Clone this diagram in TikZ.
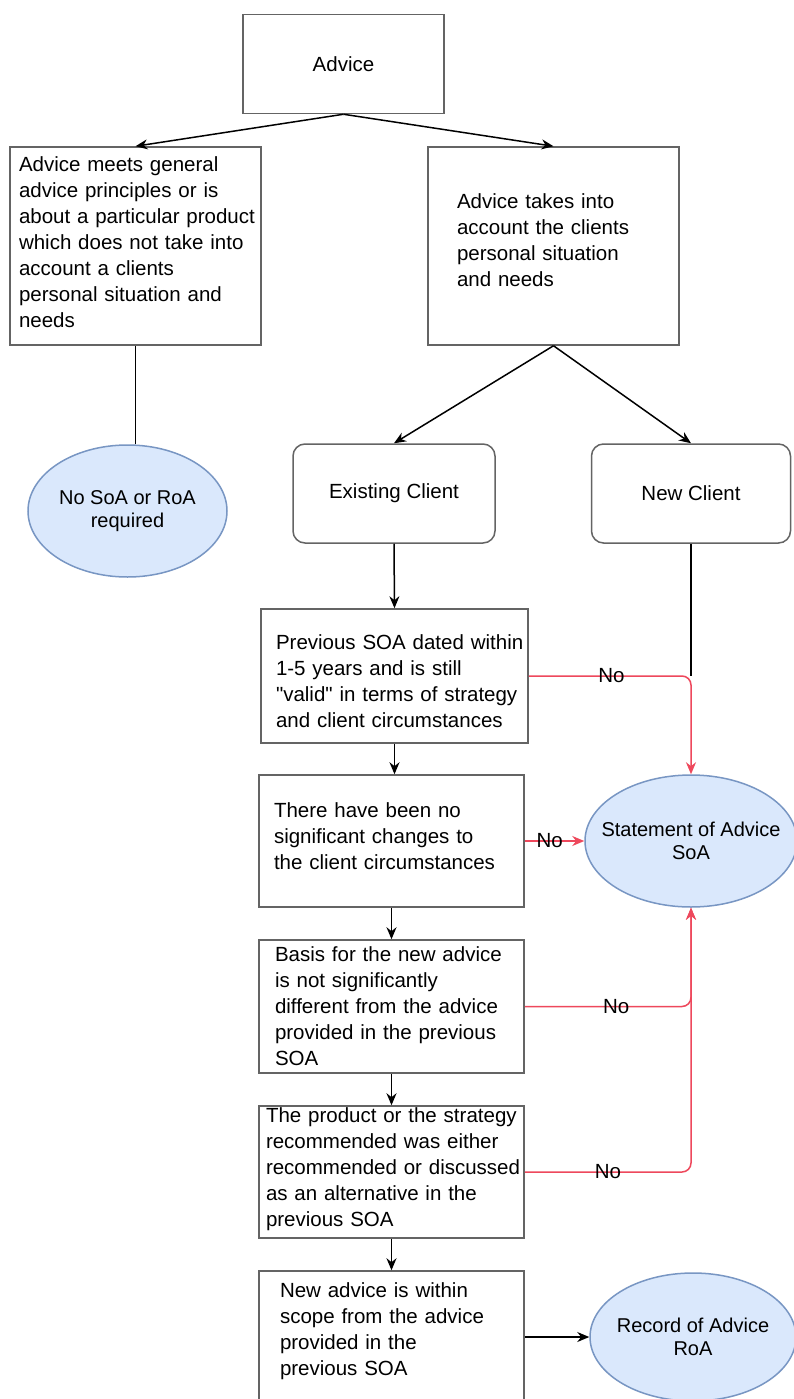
\documentclass[tikz,border=0pt]{standalone}
\usepackage{fontspec}
\setmainfont{Liberation Sans}[Ligatures=TeXOff]
\usepackage{tikz}
\usetikzlibrary{arrows.meta}
\usetikzlibrary{shapes.geometric}
\definecolor{boxgray}{RGB}{100,100,100}
\definecolor{bluefill}{RGB}{218,232,252}
\definecolor{blueline}{RGB}{120,150,195}
\definecolor{nored}{RGB}{238,72,92}
\def\lw{1.5pt}
\hyphenpenalty=10000
\exhyphenpenalty=10000
\newcommand{\padbelow}[1]{\par\kern#1\relax}

\begin{document}
\begin{tikzpicture}[	x=1pt, y=-1pt, >={Stealth[length=12pt,width=10pt]},
				font=\fontsize{20.5}{26}\selectfont,
				box/.style={draw=boxgray,line width=\lw,fill=white,rectangle,align=left,inner ysep=0pt},
				roundbox/.style={box,rounded corners=12pt,align=center},
				result/.style={draw=blueline,line width=\lw,fill=bluefill,ellipse,align=center,
					inner xsep=-18pt,inner ysep=0pt,font=\fontsize{20}{23}\selectfont},
				link/.style={line width=\lw,black},
				nolink/.style={line width=\lw,nored,rounded corners=9pt},
				nolabel/.style={text=black,inner sep=0pt}]

	\useasboundingbox (0,0) rectangle (794,1399);
	\clip (0,0) rectangle (794,1399);
	\fill[white] (0,0) rectangle (794,1399);

	% Top level
	\node[box,align=center,minimum width=201,minimum height=99] (advice) at (343.5,64) {Advice};
	\node[box,inner xsep=9,text width=233,minimum height=198] (general) at (135.5,246)
		{Advice meets general\\advice principles or is\\about~a~particular~product\\which does not take into\\account a clients\\personal situation and\\needs\padbelow{8pt}};
	\node[box,inner xsep=29,text width=193,minimum height=198] (personal) at (553.5,246)
		{Advice takes into\\account the clients\\personal situation\\and needs\padbelow{12pt}};
	\draw[link,->] (advice.south) -- (general.north);
	\draw[link,->] (advice.south) -- (personal.north);

	% General advice
	\node[result,minimum width=199,minimum height=132] (nosoa) at (127.5,511) {No SoA or RoA\\required};
	\draw[link] (general.south) -- (general.south |- nosoa.north);

	% Client type
	\node[roundbox,minimum width=202,minimum height=99] (existing) at (394,493.5) {Existing Client};
	\node[roundbox,minimum width=199,minimum height=99] (newclient) at (691,493.5) {New Client};
	\draw[link,->] (personal.south) -- (existing.north);
	\draw[link,->] (personal.south) -- (newclient.north);

	% Existing client checks
	\node[box,inner xsep=15,text width=237,minimum height=134] (previous) at (394.5,676)
		{Previous~SOA~dated~within\\1-5 years and is still\\"valid"~in~terms~of~strategy\\and client circumstances\padbelow{-10pt}};
	\node[box,inner xsep=15,text width=235,minimum height=132] (changes) at (391.5,841)
		{There have been no\\significant changes to\\the client circumstances\padbelow{9pt}};
	\node[box,inner xsep=16,text width=233,minimum height=133] (basis) at (391.5,1006.5)
		{Basis for the new advice\\is not significantly\\different from the advice\\provided in the previous\\SOA};
	\node[box,inner xsep=7,text width=251,minimum height=132] (product) at (391.5,1172)
		{The product or the strategy\\recommended was either\\recommended~or~discussed\\as an alternative in the\\previous SOA\padbelow{5pt}};
	\node[box,inner xsep=21,text width=223,minimum height=132] (scope) at (391.5,1337)
		{New advice is within\\scope from the advice\\provided in the\\previous SOA\padbelow{11pt}};
	\draw[link,->] (existing.south) -- (previous.north);
	\draw[link,->] (previous.south) -- (previous.south |- changes.north);
	\draw[link,->] (changes.south) -- (basis.north);
	\draw[link,->] (basis.south) -- (product.north);
	\draw[link,->] (product.south) -- (scope.north);

	% Outcomes
	\node[result,minimum width=212,minimum height=132] (soa) at (691,841) {Statement of Advice\\SoA};
	\node[result,minimum width=206,minimum height=128] (roa) at (693,1337) {Record of Advice\\RoA};
	\coordinate (join) at (newclient.south |- previous.east);
	\draw[link] (newclient.south) -- (join);
	\draw[link,->] (scope.east) -- (roa.west);

	% No branches
	\draw[nolink,->] (previous.east) -- node[nolabel,pos=0.51]{No} (join) -- (soa.north);
	\draw[nolink,->] (changes.east) -- node[nolabel,pos=0.42]{No} (soa.west);
	\draw[nolink,->] (basis.east) -- node[nolabel,pos=0.55]{No} (basis.east -| soa.south) -- (soa.south);
	\draw[nolink,->] (product.east) -- node[nolabel,pos=0.5]{No} (product.east -| soa.south) -- (soa.south);

\end{tikzpicture}
\end{document}
